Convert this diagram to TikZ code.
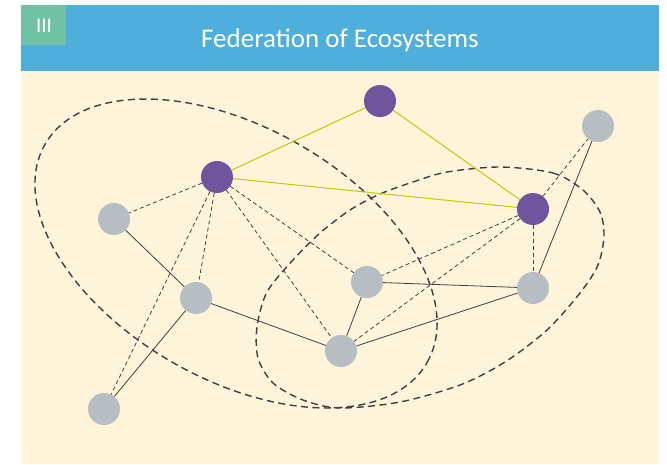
\documentclass[tikz,border=0pt]{standalone}
\usepackage{fontspec}
\setmainfont{Carlito}
\definecolor{headblue}{HTML}{4FAEDC}
\definecolor{badgegreen}{HTML}{71C2A5}
\definecolor{cream}{HTML}{FEF4DA}
\definecolor{nodepurple}{HTML}{70559E}
\definecolor{nodegray}{HTML}{B6BEC3}
\definecolor{linkgreen}{HTML}{BDCB00}
\definecolor{edgedark}{HTML}{3E3F45}
\begin{document}
\begin{tikzpicture}[x=1pt,y=-1pt,
  gnode/.style={circle,fill=nodegray,minimum size=32pt,inner sep=0pt},
  pnode/.style={circle,fill=nodepurple,minimum size=32pt,inner sep=0pt},
  solidedge/.style={draw=edgedark,line width=0.8pt},
  dashedge/.style={draw=edgedark,line width=0.8pt,dash pattern=on 4pt off 3pt},
  linkedge/.style={draw=linkgreen,line width=1pt},
  groupline/.style={draw=edgedark,line width=1.4pt,dash pattern=on 7pt off 4.5pt}]
\useasboundingbox (0,0) rectangle (667,464);
\fill[white] (0,0) rectangle (667,464);
\fill[cream] (21,71) rectangle (659,464);
\fill[headblue] (21,5) rectangle (659,71);
\fill[badgegreen] (21,5) rectangle (66,45);
\node[text=white,anchor=base,font=\fontsize{27}{30}\selectfont,inner sep=0pt] (title) at (340,47.7) {Federation of Ecosystems};
\node[text=white,anchor=base,font=\fontsize{21}{24}\selectfont,inner sep=0pt] (badge) at (44,32) {III};
% groups
\draw[groupline,shift={(236,253.5)},rotate=-29.7] (0,0) ellipse [x radius=220pt,y radius=126pt];
\draw[groupline] plot[smooth cycle] coordinates {(500,167) (553,173) (583,190) (600,212) (604,236) (598,265) (580,293) (547,330) (505,362) (460,385) (400,402) (340,408) (303,400) (273,383) (258,358) (257,327) (267,292) (293,260) (320,233) (350,210) (380,194) (413,182) (447,172)};
% nodes
\node[pnode] (p1) at (380,101) {};
\node[pnode] (p2) at (217,177) {};
\node[pnode] (p3) at (533,209) {};
\node[gnode] (g1) at (598,126) {};
\node[gnode] (g2) at (114,219) {};
\node[gnode] (g3) at (196,298) {};
\node[gnode] (g4) at (367,282) {};
\node[gnode] (g5) at (533,288) {};
\node[gnode] (g6) at (341,351) {};
\node[gnode] (g7) at (104,409) {};
% links
\draw[linkedge] (p2) -- (p1);
\draw[linkedge] (p1) -- (p3);
\draw[linkedge] (p2) -- (p3);
\draw[dashedge] (p2) -- (g2);
\draw[dashedge] (p2) -- (g7);
\draw[dashedge] (p2) -- (g3);
\draw[dashedge] (p2) -- (g6);
\draw[dashedge] (p2) -- (g4);
\draw[dashedge] (p3) -- (g1);
\draw[dashedge] (p3) -- (g4);
\draw[dashedge] (p3) -- (g6);
\draw[dashedge] (p3) -- (g5);
\draw[solidedge] (g2) -- (g3);
\draw[solidedge] (g3) -- (g7);
\draw[solidedge] (g3) -- (g6);
\draw[solidedge] (g6) -- (g4);
\draw[solidedge] (g4) -- (g5);
\draw[solidedge] (g6) -- (g5);
\draw[solidedge] (g5) -- (g1);
\end{tikzpicture}
\end{document}
